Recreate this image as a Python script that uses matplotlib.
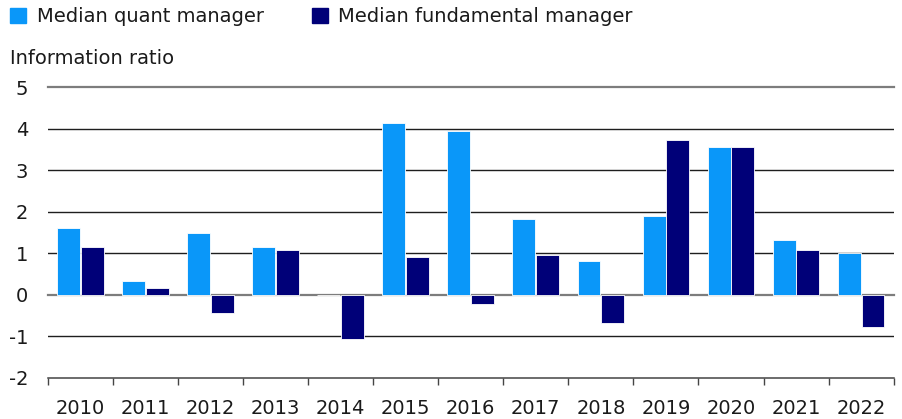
import numpy as np
import matplotlib
matplotlib.use("Agg")
import matplotlib.pyplot as plt
from matplotlib.patches import Patch

years = ["2010", "2011", "2012", "2013", "2014", "2015", "2016",
         "2017", "2018", "2019", "2020", "2021", "2022"]
quant = [1.62, 0.33, 1.48, 1.14, 0.0, 4.13, 3.94, 1.83, 0.82, 1.89, 3.57, 1.33, 1.00]
fundamental = [1.16, 0.17, -0.43, 1.07, -1.06, 0.91, -0.22, 0.96, -0.68, 3.73, 3.55, 1.08, -0.78]
y_ticks = [-2, -1, 0, 1, 2, 3, 4, 5]

QUANT_COLOR = "#0a97f9"
FUND_COLOR = "#000078"
TEXT_COLOR = "#1a1a1a"

plt.rcParams["font.family"] = ["DejaVu Sans"]

fig = plt.figure(figsize=(9.03, 4.19), dpi=100)
ax = fig.add_axes([0.0528, 0.0986, 0.9369, 0.6931])

x = np.arange(len(years))
w = 0.352
off = 0.182
ax.bar(x - off, quant, width=w, color=QUANT_COLOR, edgecolor="white", linewidth=0.6, zorder=3)
ax.bar(x + off, fundamental, width=w, color=FUND_COLOR, edgecolor="white", linewidth=0.6, zorder=3)

ax.set_xlim(-0.5, len(years) - 0.5)
ax.set_ylim(-2, 5)

# grid lines: top and zero lines gray and heavier, the rest dark and thin
for v in y_ticks:
    if v in (5, 0):
        ax.axhline(v, color="#7d7d7d", linewidth=1.6, zorder=2, clip_on=False)
    elif v == -2:
        ax.axhline(v, color="#444444", linewidth=1.1, zorder=2, clip_on=False)
    else:
        ax.axhline(v, color="#1e1e1e", linewidth=1.0, zorder=2)

for s in ax.spines.values():
    s.set_visible(False)

ax.set_yticks(y_ticks)
ax.set_yticklabels([str(v) for v in y_ticks])
ax.tick_params(axis="y", length=0, pad=14, labelsize=14, colors=TEXT_COLOR)

ax.set_xticks(x)
ax.set_xticklabels(years)
ax.set_xticks(np.arange(len(years) + 1) - 0.5, minor=True)
ax.tick_params(axis="x", which="major", length=0, pad=15, labelsize=14, colors=TEXT_COLOR)
ax.tick_params(axis="x", which="minor", length=5, width=1.0, color="#444444")

fig.text(0.011, 0.86, "Information ratio", fontsize=14, color=TEXT_COLOR, va="center", ha="left")

handles = [Patch(color=QUANT_COLOR, label="Median quant manager"),
           Patch(color=FUND_COLOR, label="Median fundamental manager")]
fig.legend(handles=handles, loc="upper left", bbox_to_anchor=(-0.008, 1.025), ncol=2,
           frameon=False, fontsize=14, handlelength=0.8, handleheight=0.8,
           handletextpad=0.55, columnspacing=2.5, labelcolor=TEXT_COLOR)

fig.savefig("out.png", dpi=100, facecolor="white")
